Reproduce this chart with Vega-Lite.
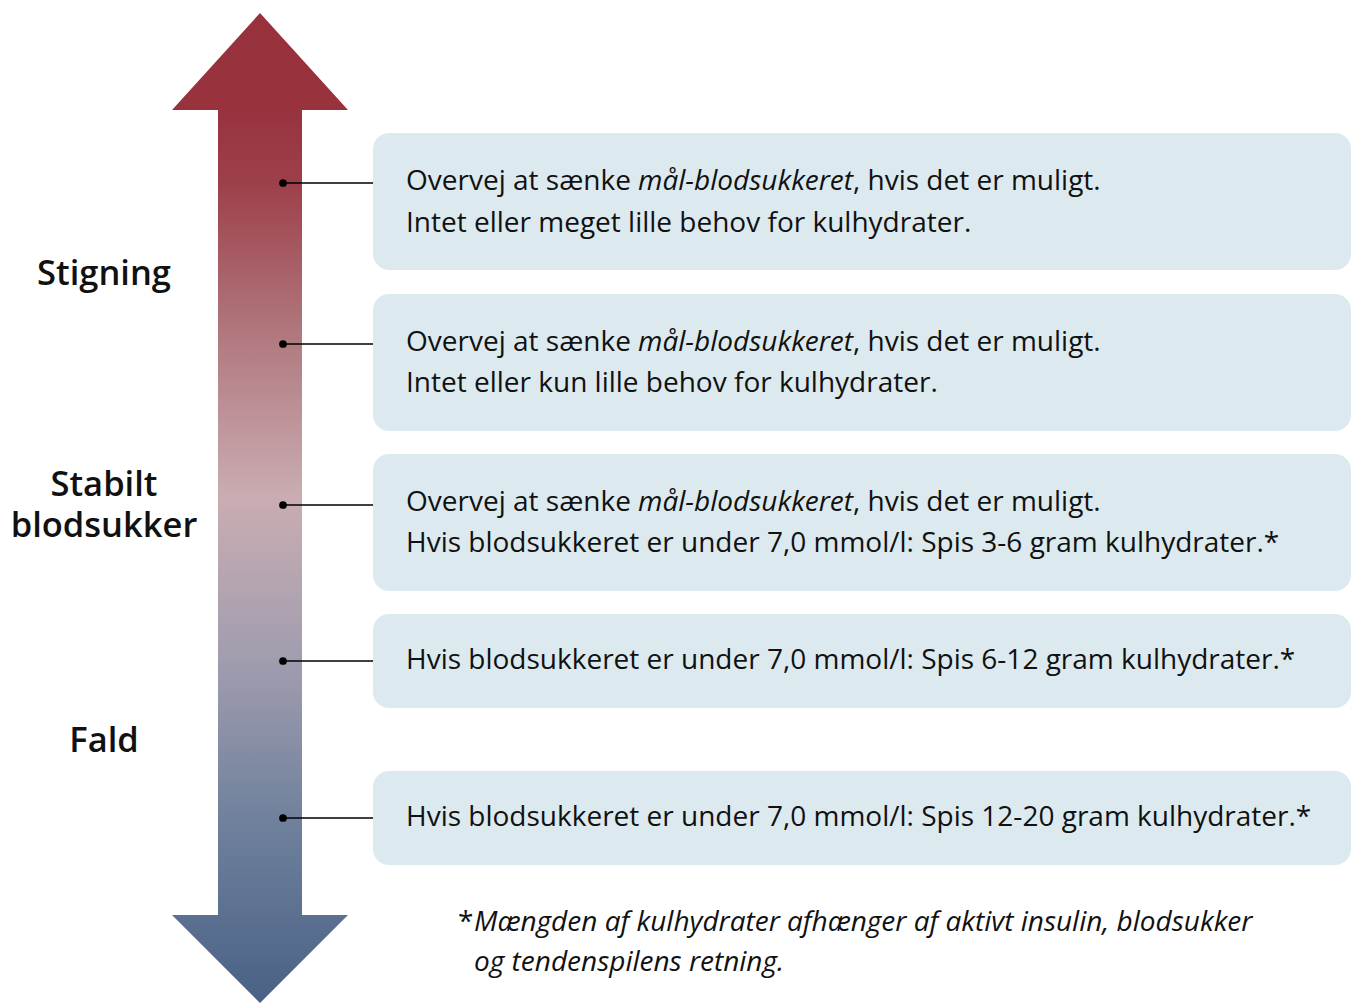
{
  "$schema": "https://vega.github.io/schema/vega-lite/v6.json",
  "width": 1352,
  "height": 1005,
  "padding": 0,
  "autosize": {"type": "fit", "contains": "padding"},
  "config": {"view": {"stroke": null}, "font": "Open Sans"},
  "datasets": {
    "boxes": [
      {"x0": 373, "x1": 1351, "y0": 133, "y1": 270},
      {"x0": 373, "x1": 1351, "y0": 294, "y1": 431},
      {"x0": 373, "x1": 1351, "y0": 454, "y1": 591},
      {"x0": 373, "x1": 1351, "y0": 614, "y1": 708},
      {"x0": 373, "x1": 1351, "y0": 771, "y1": 865}
    ],
    "links": [
      {"x0": 283, "x1": 373, "y": 183},
      {"x0": 283, "x1": 373, "y": 344},
      {"x0": 283, "x1": 373, "y": 505},
      {"x0": 283, "x1": 373, "y": 661},
      {"x0": 283, "x1": 373, "y": 818}
    ],
    "arrow": [{"cx": 260, "cy": 508}],
    "labels": [
      {"x": 104, "y": 285, "text": "Stigning"},
      {"x": 104, "y": 496, "text": "Stabilt"},
      {"x": 104, "y": 537, "text": "blodsukker"},
      {"x": 104, "y": 752, "text": "Fald"}
    ],
    "texts": [
      {"x": 406, "y": 190, "text": "Overvej at sænke", "kind": "normal"},
      {"x": 638, "y": 190, "text": "mål-blodsukkeret", "kind": "italic"},
      {"x": 853, "y": 190, "text": ", hvis det er muligt.", "kind": "normal"},
      {"x": 406, "y": 232, "text": "Intet eller meget lille behov for kulhydrater.", "kind": "normal"},
      {"x": 406, "y": 351, "text": "Overvej at sænke", "kind": "normal"},
      {"x": 638, "y": 351, "text": "mål-blodsukkeret", "kind": "italic"},
      {"x": 853, "y": 351, "text": ", hvis det er muligt.", "kind": "normal"},
      {"x": 406, "y": 392, "text": "Intet eller kun lille behov for kulhydrater.", "kind": "normal"},
      {"x": 406, "y": 511, "text": "Overvej at sænke", "kind": "normal"},
      {"x": 638, "y": 511, "text": "mål-blodsukkeret", "kind": "italic"},
      {"x": 853, "y": 511, "text": ", hvis det er muligt.", "kind": "normal"},
      {"x": 406, "y": 552, "text": "Hvis blodsukkeret er under 7,0 mmol/l: Spis 3-6 gram kulhydrater.*", "kind": "normal"},
      {"x": 406, "y": 669, "text": "Hvis blodsukkeret er under 7,0 mmol/l: Spis 6-12 gram kulhydrater.*", "kind": "normal"},
      {"x": 406, "y": 826, "text": "Hvis blodsukkeret er under 7,0 mmol/l: Spis 12-20 gram kulhydrater.*", "kind": "normal"},
      {"x": 458, "y": 931, "text": "*", "kind": "normal"},
      {"x": 474, "y": 931, "text": "Mængden af kulhydrater afhænger af aktivt insulin, blodsukker", "kind": "italic"},
      {"x": 474, "y": 971, "text": "og tendenspilens retning.", "kind": "italic"}
    ]
  },
  "layer": [
    {
      "data": {"name": "boxes"},
      "mark": {"type": "rect", "color": "#dceaf0", "cornerRadius": 16},
      "encoding": {
        "x": {"field": "x0", "type": "quantitative", "scale": {"domain": [0, 1352], "nice": false, "zero": false}, "axis": null},
        "x2": {"field": "x1"},
        "y": {"field": "y0", "type": "quantitative", "scale": {"domain": [0, 1005], "nice": false, "zero": false, "reverse": true}, "axis": null},
        "y2": {"field": "y1"}
      }
    },
    {
      "data": {"name": "arrow"},
      "mark": {
        "type": "point",
        "shape": "M0,-495L88,-398L42,-398L42,407L88,407L0,495L-88,407L-42,407L-42,-398L-88,-398Z",
        "size": 4,
        "filled": true,
        "opacity": 1,
        "strokeWidth": 0,
        "fill": {
          "gradient": "linear", "x1": 0, "y1": 0, "x2": 0, "y2": 1,
          "stops": [
            {"offset": 0, "color": "#97313c"},
            {"offset": 0.1, "color": "#98333e"},
            {"offset": 0.17, "color": "#9d3f49"},
            {"offset": 0.33, "color": "#b17a80"},
            {"offset": 0.49, "color": "#c9adb2"},
            {"offset": 0.65, "color": "#a29daf"},
            {"offset": 0.82, "color": "#6e809c"},
            {"offset": 1, "color": "#4a6185"}
          ]
        }
      },
      "encoding": {
        "x": {"field": "cx", "type": "quantitative"},
        "y": {"field": "cy", "type": "quantitative"}
      }
    },
    {
      "data": {"name": "links"},
      "mark": {"type": "rule", "color": "#000000", "strokeWidth": 1.6},
      "encoding": {
        "x": {"field": "x0", "type": "quantitative"},
        "x2": {"field": "x1"},
        "y": {"field": "y", "type": "quantitative"}
      }
    },
    {
      "data": {"name": "links"},
      "mark": {"type": "point", "shape": "circle", "filled": true, "opacity": 1, "color": "#000000", "size": 60},
      "encoding": {
        "x": {"field": "x0", "type": "quantitative"},
        "y": {"field": "y", "type": "quantitative"}
      }
    },
    {
      "data": {"name": "labels"},
      "mark": {"type": "text", "align": "center", "baseline": "alphabetic", "fontSize": 34.5, "fontWeight": 600, "color": "#111111"},
      "encoding": {
        "x": {"field": "x", "type": "quantitative"},
        "y": {"field": "y", "type": "quantitative"},
        "text": {"field": "text"}
      }
    },
    {
      "data": {"name": "texts"},
      "transform": [{"filter": "datum.kind === 'normal'"}],
      "mark": {"type": "text", "align": "left", "baseline": "alphabetic", "fontSize": 28, "color": "#111111"},
      "encoding": {
        "x": {"field": "x", "type": "quantitative"},
        "y": {"field": "y", "type": "quantitative"},
        "text": {"field": "text"}
      }
    },
    {
      "data": {"name": "texts"},
      "transform": [{"filter": "datum.kind === 'italic'"}],
      "mark": {"type": "text", "align": "left", "baseline": "alphabetic", "fontSize": 28, "fontStyle": "italic", "color": "#111111"},
      "encoding": {
        "x": {"field": "x", "type": "quantitative"},
        "y": {"field": "y", "type": "quantitative"},
        "text": {"field": "text"}
      }
    }
  ]
}
